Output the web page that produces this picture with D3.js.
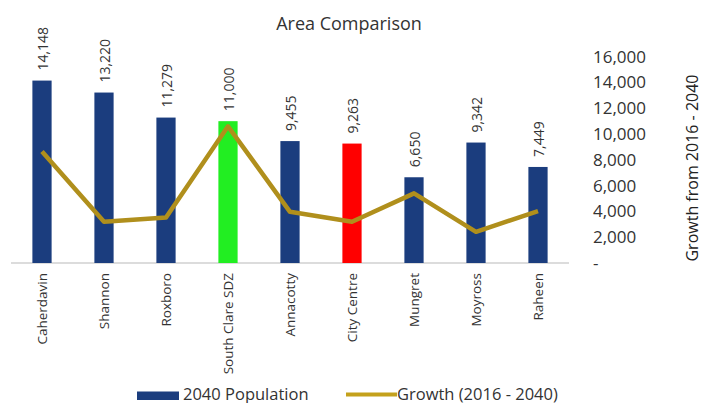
<!DOCTYPE html>
<html>
<head>
<meta charset="utf-8">
<script src="https://cdn.jsdelivr.net/npm/d3@7"></script>
<style>
  body { margin: 0; background: #fff; }
  svg { display: block; font-family: "Open Sans", sans-serif; }
</style>
</head>
<body>
<svg width="702" height="403"></svg>
<script>
var areas = ["Caherdavin", "Shannon", "Roxboro", "South Clare SDZ", "Annacotty", "City Centre", "Mungret", "Moyross", "Raheen"]
var population2040 = [14148, 13220, 11279, 11000, 9455, 9263, 6650, 9342, 7449]
var growth = [8650, 3200, 3530, 10600, 3970, 3200, 5400, 2420, 4030]
var barColors = ["#1b3d7e", "#1b3d7e", "#1b3d7e", "#22ee22", "#1b3d7e", "#ff0000", "#1b3d7e", "#1b3d7e", "#1b3d7e"]
var yTicks = [0, 2000, 4000, 6000, 8000, 10000, 12000, 14000, 16000]

var svg = d3.select("svg")
var lineColor = "#b08f1c"

var x = d3.scaleBand().domain(areas).range([11, 569]).paddingInner(0.69).paddingOuter(0.345)
var y = d3.scaleLinear().domain([0, 16000]).range([263, 56.7])

// title
svg.append("text")
   .attr("x", 349).attr("y", 29.5)
   .attr("text-anchor", "middle")
   .attr("font-size", "18px")
   .attr("fill", "#333")
   .text("Area Comparison")

// baseline
svg.append("line")
   .attr("x1", 11).attr("x2", 569)
   .attr("y1", y(0)).attr("y2", y(0))
   .attr("stroke", "#d0d0d0").attr("stroke-width", 1.5)

// bars
svg.selectAll("rect.bar")
   .data(areas)
   .enter()
   .append("rect")
   .attr("class", "bar")
   .attr("x", function(d) { return x(d) })
   .attr("y", function(d, i) { return y(population2040[i]) })
   .attr("width", x.bandwidth())
   .attr("height", function(d, i) { return y(0) - y(population2040[i]) })
   .attr("fill", function(d, i) { return barColors[i] })

// bar value labels
svg.selectAll("text.val")
   .data(areas)
   .enter()
   .append("text")
   .attr("class", "val")
   .attr("transform", function(d, i) {
      return "translate(" + (x(d) + x.bandwidth() / 2) + "," + (y(population2040[i]) - 10) + ") rotate(-90)"
   })
   .attr("dy", "0.45em")
   .attr("font-size", "14px")
   .attr("fill", "#333")
   .text(function(d, i) { return d3.format(",")(population2040[i]) })

// growth line
var line = d3.line()
   .x(function(d, i) { return x(areas[i]) + x.bandwidth() / 2 })
   .y(function(d) { return y(d) })

svg.append("path")
   .datum(growth)
   .attr("d", line)
   .attr("fill", "none")
   .attr("stroke", lineColor)
   .attr("stroke-width", 4.5)
   .attr("stroke-linejoin", "round")

// category labels
svg.selectAll("text.cat")
   .data(areas)
   .enter()
   .append("text")
   .attr("class", "cat")
   .attr("transform", function(d) {
      return "translate(" + (x(d) + x.bandwidth() / 2) + ",273) rotate(-90)"
   })
   .attr("dy", "0.38em")
   .attr("text-anchor", "end")
   .attr("font-size", "13.5px")
   .attr("fill", "#333")
   .text(function(d) { return d })

// right axis
var yAxis = d3.axisRight(y)
   .tickValues(yTicks)
   .tickSize(0)
   .tickPadding(0)
   .tickFormat(function(d) { return d === 0 ? "-" : d3.format(",")(d) })

var ga = svg.append("g")
   .attr("transform", "translate(593,0)")
   .call(yAxis)
ga.select(".domain").remove()
ga.selectAll("text")
   .attr("font-family", "Open Sans, sans-serif")
   .attr("font-size", "17px")
   .attr("fill", "#333")

svg.append("text")
   .attr("transform", "translate(692,168) rotate(-90)")
   .attr("text-anchor", "middle")
   .attr("dy", "0.35em")
   .attr("font-size", "16px")
   .attr("fill", "#222")
   .text("Growth from 2016 - 2040")

// legend
svg.append("rect")
   .attr("x", 137).attr("y", 391.5)
   .attr("width", 42).attr("height", 8.5)
   .attr("fill", "#1b3d7e")
svg.append("text")
   .attr("x", 183).attr("y", 399.5)
   .attr("font-size", "16.5px")
   .attr("fill", "#333")
   .text("2040 Population")

svg.append("line")
   .attr("x1", 346).attr("x2", 397)
   .attr("y1", 394.5).attr("y2", 394.5)
   .attr("stroke", "#c4a11c").attr("stroke-width", 4)
svg.append("text")
   .attr("x", 397).attr("y", 399.5)
   .attr("font-size", "16.5px")
   .attr("fill", "#333")
   .text("Growth (2016 - 2040)")
</script>
</body>
</html>
